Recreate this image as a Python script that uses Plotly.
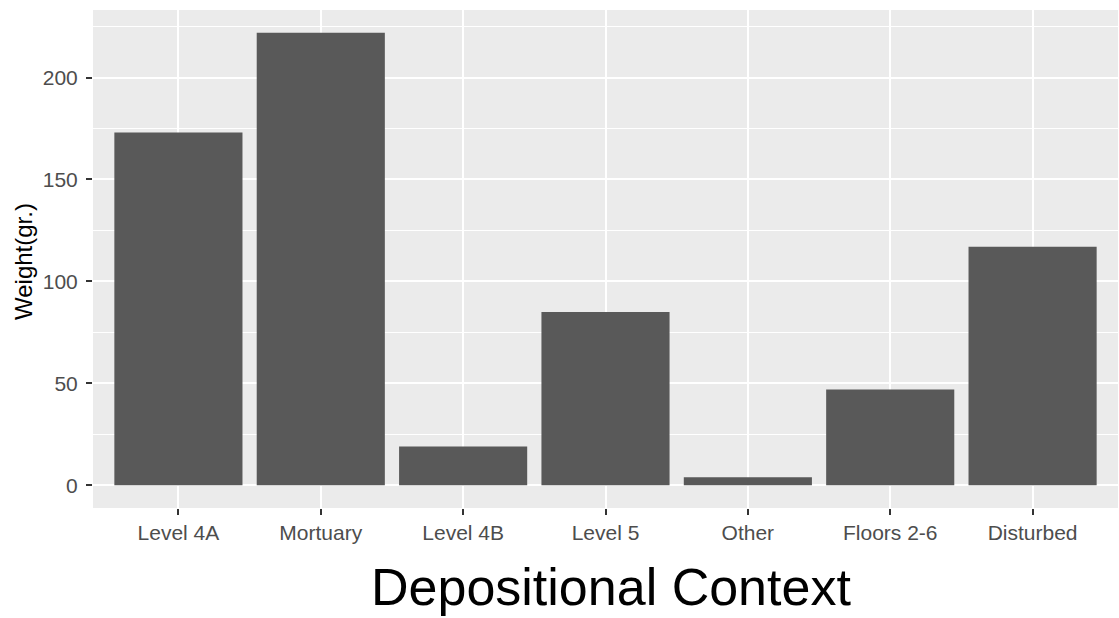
import plotly.graph_objects as go

# Bar heights per depositional context (grams)
contexts = ["Level 4A", "Mortuary", "Level 4B", "Level 5", "Other", "Floors 2-6", "Disturbed"]
weights = [173, 222, 19, 85, 4, 47, 117]

y_ticks = [0, 50, 100, 150, 200]

FONT = "Liberation Sans, Arial, sans-serif"

fig = go.Figure(
    go.Bar(
        x=contexts,
        y=weights,
        marker=dict(color="#595959", line=dict(width=0)),
        hoverinfo="x+y",
    )
)

ymax = max(weights)
pad = ymax * 0.05

fig.update_layout(
    width=1119,
    height=618,
    margin=dict(l=93, r=1, t=10, b=110),
    paper_bgcolor="white",
    plot_bgcolor="#EBEBEB",
    bargap=0.1,
    showlegend=False,
    font=dict(family=FONT, color="#4D4D4D"),
)

fig.update_xaxes(
    type="category",
    range=[-0.6, len(contexts) - 0.4],
    showgrid=True,
    gridcolor="white",
    gridwidth=2,
    zeroline=False,
    showline=False,
    ticks="outside",
    ticklen=6,
    tickwidth=1.5,
    tickcolor="#333333",
    tickfont=dict(family=FONT, size=21, color="#4D4D4D"),
)

fig.update_yaxes(
    range=[-pad, ymax + pad],
    tickvals=y_ticks,
    ticktext=[str(v) for v in y_ticks],
    showgrid=True,
    gridcolor="white",
    gridwidth=2,
    minor=dict(dtick=25, tick0=25, showgrid=True, gridcolor="white", gridwidth=1),
    zeroline=False,
    showline=False,
    ticks="outside",
    ticklen=6,
    tickwidth=1.5,
    tickcolor="#333333",
    ticklabelstandoff=4,
    tickfont=dict(family=FONT, size=21, color="#4D4D4D"),
)

# Axis titles placed as annotations relative to the panel
fig.add_annotation(
    text="Depositional Context",
    xref="paper", yref="paper",
    x=0.505, y=-0.158,
    xanchor="center", yanchor="middle",
    showarrow=False,
    font=dict(family=FONT, size=52, color="black"),
)
fig.add_annotation(
    text="Weight(gr.)",
    xref="paper", yref="paper",
    x=-0.0673, y=0.494,
    xanchor="center", yanchor="middle",
    textangle=-90,
    showarrow=False,
    font=dict(family=FONT, size=24, color="black"),
)

fig.write_html("out.html")
